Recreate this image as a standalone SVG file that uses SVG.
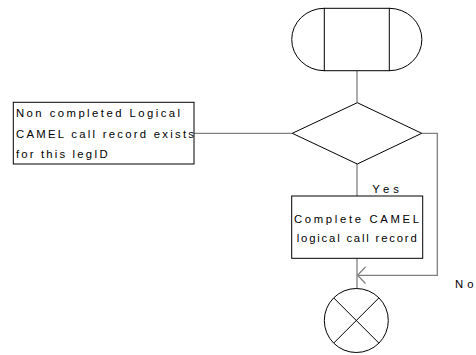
<svg xmlns="http://www.w3.org/2000/svg" width="476" height="355" viewBox="0 0 476 355">
<style>
.s{fill:none;stroke:#000;stroke-width:1}
.c{fill:none;stroke:#808080;stroke-width:1.3}
text{font-family:"Liberation Sans",Arial,sans-serif;font-size:11.3px;fill:#000}
</style>
<rect width="476" height="355" fill="#fff"/>
<g id="connectors">
<line class="c" x1="357" y1="71" x2="357" y2="102.5"/>
<line class="c" x1="194" y1="133.3" x2="292.3" y2="133.3"/>
<line class="c" x1="357" y1="164" x2="357" y2="196"/>
<polyline class="c" points="421.7,133.3 437.3,133.3 437.3,275.3 357,275.3"/>
<polyline class="c" points="365.5,267 357.5,275.3 365.5,283.5"/>
<line class="c" x1="357" y1="258.3" x2="357" y2="288.5"/>
<text x="372.3" y="193.3" textLength="26.7" lengthAdjust="spacing">Yes</text>
<text x="455" y="287.7" textLength="18.5" lengthAdjust="spacing">No</text>
</g>
<g id="start">
<rect class="s" x="324.3" y="8.3" width="65" height="62.4"/>
<path class="s" d="M324.3,8.3 A32.6,31.2 0 0 0 324.3,70.7"/>
<path class="s" d="M389.3,8.3 A32.6,31.2 0 0 1 389.3,70.7"/>
</g>
<g id="decision">
<polygon class="s" points="357.3,102.7 421.7,133.3 357.3,164 292.3,133.3"/>
</g>
<g id="comment">
<rect class="s" x="13.3" y="102.3" width="180.7" height="61.7"/>
<text x="16" y="117.3" textLength="164" lengthAdjust="spacing">Non completed Logical</text>
<text x="16" y="137.7" textLength="178" lengthAdjust="spacing">CAMEL call record exists</text>
<text x="16" y="157.7" textLength="91.7" lengthAdjust="spacing">for this legID</text>
</g>
<g id="task">
<rect class="s" x="291.7" y="196" width="131" height="62.3"/>
<text x="294" y="223.3" textLength="125" lengthAdjust="spacing">Complete CAMEL</text>
<text x="296.7" y="242" textLength="120" lengthAdjust="spacing">logical call record</text>
</g>
<g id="stop">
<circle class="s" cx="356.3" cy="320.5" r="32"/>
<line class="s" x1="333.7" y1="297.9" x2="378.9" y2="343.1"/>
<line class="s" x1="378.9" y1="297.9" x2="333.7" y2="343.1"/>
</g>
</svg>
